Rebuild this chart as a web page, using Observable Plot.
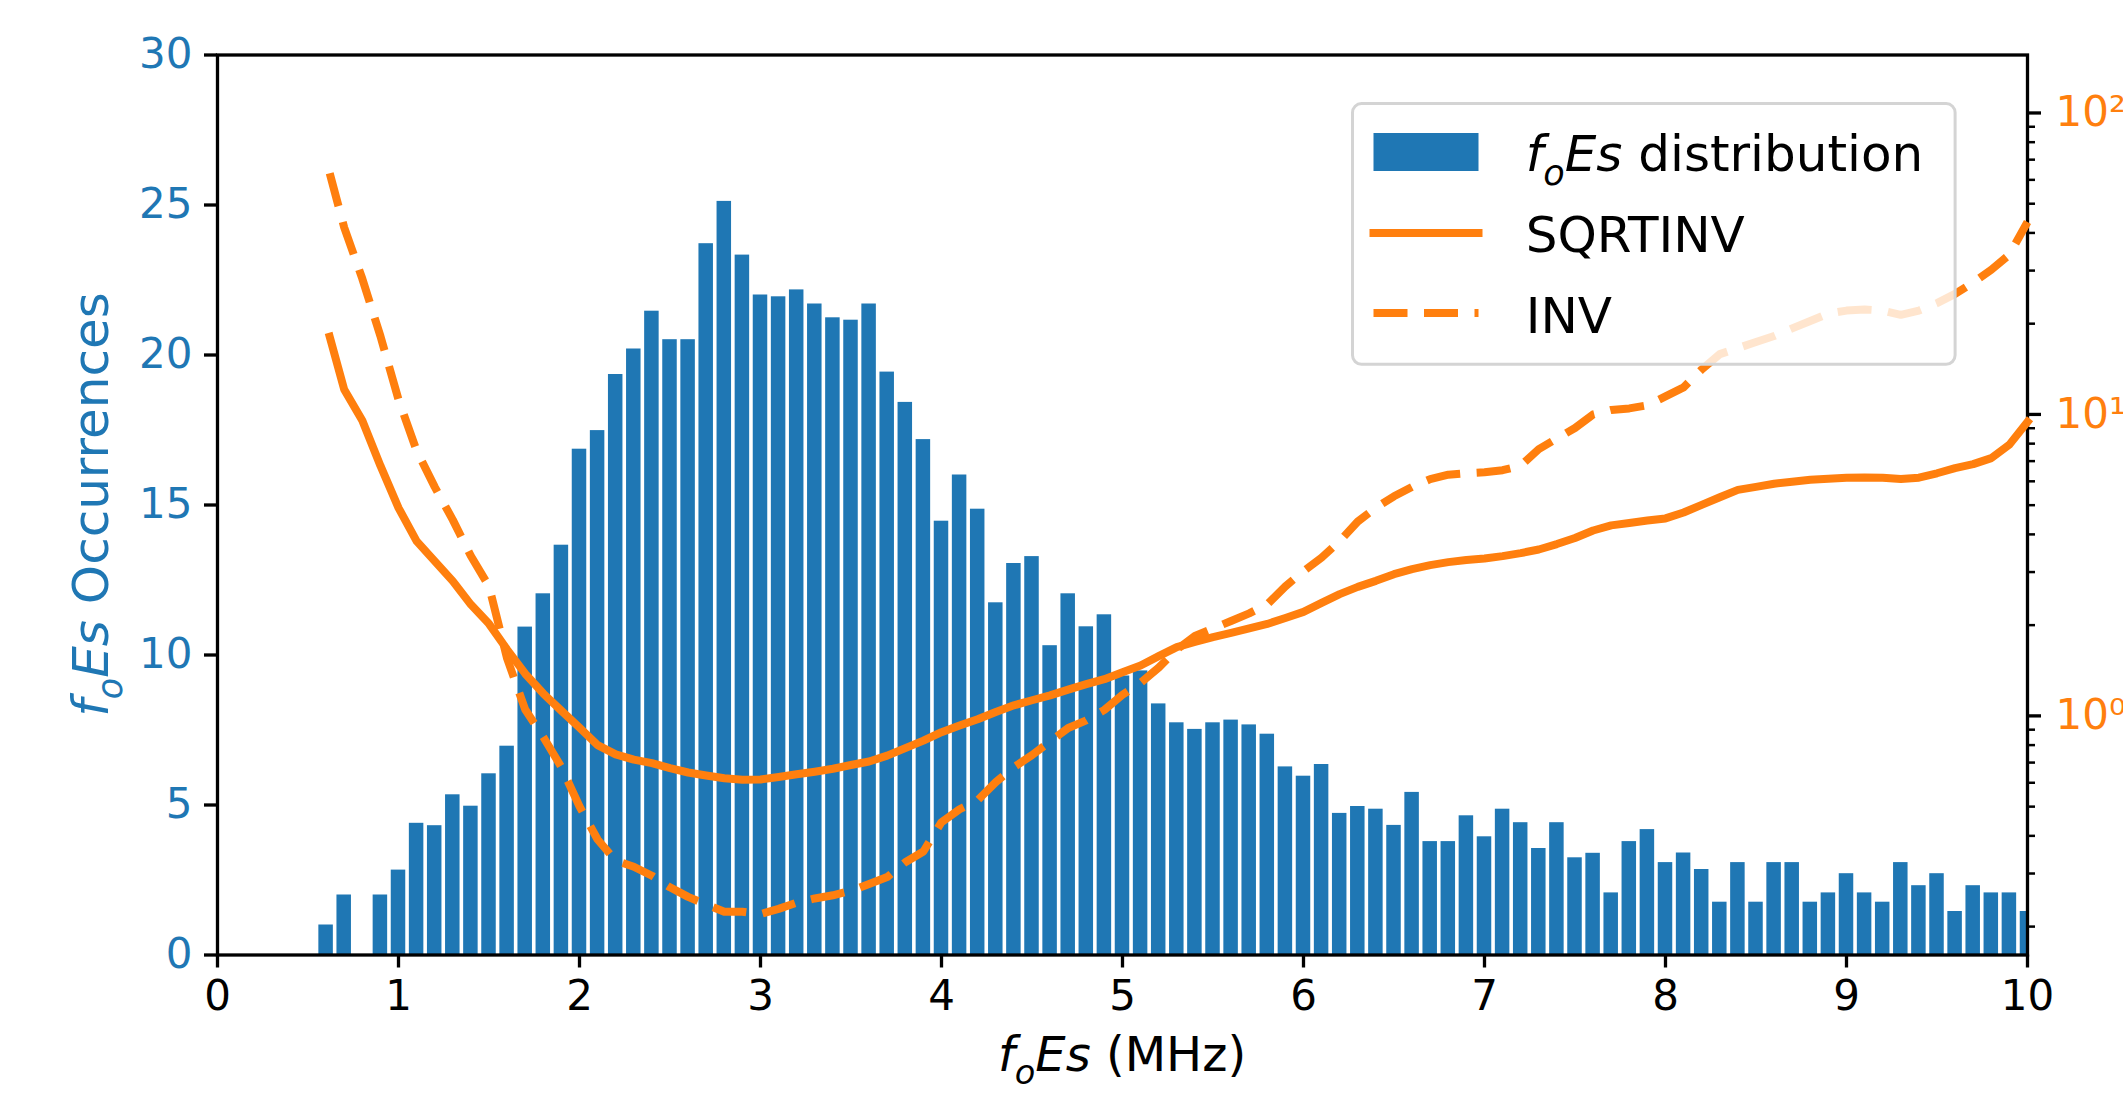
<!DOCTYPE html>
<html>
<head>
<meta charset="utf-8">
<script src="https://cdn.jsdelivr.net/npm/d3@7"></script>
<script src="https://cdn.jsdelivr.net/npm/@observablehq/plot@0.6"></script>
<style>
  html, body { margin: 0; padding: 0; background: #fff; overflow: hidden; }
  #chart { position: relative; width: 2123px; height: 1093px; }
  #chart svg { position: absolute; left: 0; top: 0; overflow: visible; max-width: none !important; }
</style>
</head>
<body>
<div id="chart"></div>
<script>
// ---------- data ----------
const binCenters = [0.6,0.7,0.8,0.9,1.0,1.1,1.2,1.3,1.4,1.5,1.6,1.7,1.8,1.9,2.0,2.1,2.2,2.3,2.4,2.5,
  2.6,2.7,2.8,2.9,3.0,3.1,3.2,3.3,3.4,3.5,3.6,3.7,3.8,3.9,4.0,4.1,4.2,4.3,4.4,4.5,
  4.6,4.7,4.8,4.9,5.0,5.1,5.2,5.3,5.4,5.5,5.6,5.7,5.8,5.9,6.0,6.1,6.2,6.3,6.4,6.5,
  6.6,6.7,6.8,6.9,7.0,7.1,7.2,7.3,7.4,7.5,7.6,7.7,7.8,7.9,8.0,8.1,8.2,8.3,8.4,8.5,
  8.6,8.7,8.8,8.9,9.0,9.1,9.2,9.3,9.4,9.5,9.6,9.7,9.8,9.9,10.0];
const occurrences = [1.0,2.0,0,2.0,2.83,4.39,4.31,5.34,4.96,6.04,6.96,10.93,12.04,13.66,16.86,17.48,19.35,20.2,21.46,20.51,
  20.51,23.71,25.12,23.33,22.0,21.94,22.17,21.7,21.24,21.16,21.7,19.43,18.42,17.18,14.46,16.0,14.86,11.74,13.05,13.28,
  10.31,12.04,10.94,11.34,9.3,9.47,8.37,7.74,7.52,7.74,7.83,7.67,7.36,6.27,5.96,6.35,4.72,4.95,4.86,4.32,
  5.42,3.78,3.78,4.64,3.94,4.86,4.41,3.55,4.41,3.24,3.39,2.07,3.78,4.18,3.08,3.4,2.85,1.76,3.08,1.76,
  3.08,3.08,1.76,2.07,2.71,2.07,1.76,3.08,2.31,2.71,1.45,2.31,2.07,2.07,1.45];
const binWidth = 0.1;

const lineFreqs = [0.62,0.7,0.8,0.9,1.0,1.1,1.2,1.3,1.4,1.5,1.6,1.7,1.8,1.9,2.0,2.1,2.2,2.3,2.4,2.5,
  2.6,2.7,2.8,2.9,3.0,3.1,3.2,3.3,3.4,3.5,3.6,3.7,3.8,3.9,4.0,4.1,4.2,4.3,4.4,4.5,
  4.6,4.7,4.8,4.9,5.0,5.1,5.2,5.3,5.4,5.5,5.6,5.7,5.8,5.9,6.0,6.1,6.2,6.3,6.4,6.5,
  6.6,6.7,6.8,6.9,7.0,7.1,7.2,7.3,7.4,7.5,7.6,7.7,7.8,7.9,8.0,8.1,8.2,8.3,8.4,8.5,
  8.6,8.7,8.8,8.9,9.0,9.1,9.2,9.3,9.4,9.5,9.6,9.7,9.8,9.9,10.0];
const sqrtinv = [18.1,12.1,9.55,6.76,4.90,3.80,3.26,2.80,2.34,2.02,1.66,1.38,1.186,1.04,0.914,0.80,0.745,0.716,0.697,0.671,
  0.649,0.634,0.621,0.614,0.615,0.627,0.640,0.653,0.668,0.687,0.706,0.738,0.782,0.828,0.883,0.929,0.975,1.03,1.084,1.127,
  1.17,1.222,1.274,1.324,1.396,1.469,1.578,1.69,1.758,1.824,1.884,1.95,2.018,2.113,2.213,2.371,2.535,2.679,2.805,2.951,
  3.069,3.162,3.236,3.289,3.327,3.388,3.467,3.565,3.715,3.89,4.12,4.285,4.365,4.446,4.519,4.73,5.01,5.31,5.62,5.75,
  5.89,5.98,6.07,6.12,6.17,6.18,6.17,6.11,6.17,6.38,6.64,6.84,7.16,7.94,9.44];
const inv = [63.1,41.7,28.2,18.2,11.2,7.59,5.75,4.47,3.39,2.69,1.55,1.05,0.851,0.676,0.501,0.389,0.331,0.316,0.295,0.27,
  0.251,0.237,0.224,0.224,0.22,0.229,0.240,0.248,0.254,0.263,0.277,0.292,0.327,0.355,0.444,0.49,0.525,0.603,0.676,0.741,
  0.822,0.912,0.966,1.047,1.175,1.288,1.445,1.66,1.84,1.95,2.065,2.188,2.344,2.69,3.02,3.35,3.80,4.416,4.90,5.35,
  5.75,6.10,6.31,6.38,6.43,6.53,6.76,7.67,8.32,9.02,10.0,10.35,10.47,10.72,11.48,12.3,14.1,15.85,16.6,17.4,
  18.2,19.3,20.4,21.6,22.1,22.3,22.1,21.4,22.1,23.4,25.1,27.4,30.2,33.9,43.5];

const xTicks = [0,1,2,3,4,5,6,7,8,9,10];
const leftTicks = [0,5,10,15,20,25,30];
const rightTicks = [1,10,100];
const rightTickLabels = ["10\u2070","10\u00B9","10\u00B2"];
const rightMinorTicks = [0.2,0.3,0.4,0.5,0.6,0.7,0.8,0.9,2,3,4,5,6,7,8,9,20,30,40,50,60,70,80,90];
const seriesNames = ["distribution","SQRTINV","INV"];

// ---------- styles ----------
const BLUE = "#1f77b4", ORANGE = "#ff7f0e";
const W = 2123, H = 1093;
const M = {left: 217, right: 96, top: 54.5, bottom: 138.5};
const FONT = "DejaVu Sans";

const bars = binCenters.map((c, i) => ({x1: c - binWidth / 2, x2: c + binWidth / 2, y: occurrences[i]}));
const lineData = lineFreqs.map((f, i) => ({f, s: sqrtinv[i], v: inv[i]}));

const common = {
  width: W, height: H,
  marginLeft: M.left, marginRight: M.right, marginTop: M.top, marginBottom: M.bottom,
  style: {fontFamily: FONT, fontSize: "42px", background: "transparent", overflow: "visible", color: "black"}
};

const p1 = Plot.plot({
  ...common,
  x: {domain: [0, 10]},
  y: {domain: [0, 30]},
  marks: [
    Plot.rectY(bars, {x1: "x1", x2: "x2", y: "y", fill: BLUE, insetLeft: 1.8, insetRight: 1.8, clip: true}),
    Plot.axisX({ticks: xTicks, tickSize: 13, tickPadding: 12, stroke: "black", strokeWidth: 3.3, fill: "black", label: null, tickFormat: d => String(d)}),
    Plot.axisY({ticks: leftTicks, tickSize: 13, tickPadding: 12, stroke: "black", strokeWidth: 3.3, fill: BLUE, label: null, tickFormat: d => String(d)}),
    Plot.frame({stroke: "black", strokeWidth: 3.3})
  ]
});

const p2 = Plot.plot({
  ...common,
  x: {domain: [0, 10], axis: null},
  y: {type: "log", domain: [0.161, 155.7]},
  marks: [
    Plot.line(lineData, {x: "f", y: "s", stroke: ORANGE, strokeWidth: 8, strokeLinecap: "square", strokeLinejoin: "round"}),
    Plot.line(lineData, {x: "f", y: "v", stroke: ORANGE, strokeWidth: 8, strokeDasharray: "34,16.5", strokeLinecap: "butt", strokeLinejoin: "round"}),
    Plot.axisY({anchor: "right", ticks: rightMinorTicks, tickSize: 7, stroke: "black", strokeWidth: 2.5, tickFormat: () => "", label: null}),
    Plot.axisY({anchor: "right", ticks: rightTicks, tickSize: 13, tickPadding: 15, stroke: "black", strokeWidth: 3.3, fill: ORANGE, label: null,
      tickFormat: d => rightTickLabels[rightTicks.indexOf(d)]})
  ]
});

const chart = document.getElementById("chart");
chart.appendChild(p1);
chart.appendChild(p2);

// ---------- rich text labels, legend ----------
const svg = d3.select(p2);

function foEs(text, restText, size) {
  text.append("tspan").attr("font-style", "italic").text("f");
  text.append("tspan").attr("font-style", "italic").attr("font-size", size * 0.7).attr("dy", size * 0.28).text("o");
  text.append("tspan").attr("font-style", "italic").attr("dy", -size * 0.28).text("Es");
  text.append("tspan").text(restText);
}

// x label
const xl = svg.append("text").attr("x", (M.left + (W - M.right)) / 2).attr("y", 1071)
  .attr("text-anchor", "middle").attr("font-family", FONT).attr("font-size", 48).attr("fill", "black");
foEs(xl, " (MHz)", 48);

// y label
const yl = svg.append("text").attr("transform", `translate(108,${(M.top + H - M.bottom) / 2}) rotate(-90)`)
  .attr("text-anchor", "middle").attr("font-family", FONT).attr("font-size", 50).attr("fill", BLUE);
foEs(yl, " Occurrences", 50);

// legend
const lg = svg.append("g").attr("font-family", FONT).attr("font-size", 50).attr("text-anchor", "start");
lg.append("rect").attr("x", 1352.5).attr("y", 103.6).attr("width", 602.6).attr("height", 260.7)
  .attr("rx", 9).attr("fill", "white").attr("fill-opacity", 0.8).attr("stroke", "#d4d4d4").attr("stroke-width", 3);
lg.append("rect").attr("x", 1373.5).attr("y", 133).attr("width", 105).attr("height", 38).attr("fill", BLUE);
lg.append("line").attr("x1", 1373.5).attr("x2", 1478.5).attr("y1", 233).attr("y2", 233)
  .attr("stroke", ORANGE).attr("stroke-width", 8).attr("stroke-linecap", "square");
lg.append("line").attr("x1", 1373.5).attr("x2", 1478.5).attr("y1", 313).attr("y2", 313)
  .attr("stroke", ORANGE).attr("stroke-width", 8).attr("stroke-dasharray", "34,16.5").attr("stroke-linecap", "butt");
const t1 = lg.append("text").attr("x", 1525.7).attr("y", 171).attr("fill", "black").attr("text-anchor", "start");
foEs(t1, " " + seriesNames[0], 50);
lg.append("text").attr("x", 1525.7).attr("y", 252).attr("fill", "black").attr("text-anchor", "start").text(seriesNames[1]);
lg.append("text").attr("x", 1525.7).attr("y", 333).attr("fill", "black").attr("text-anchor", "start").text(seriesNames[2]);
</script>
</body>
</html>
